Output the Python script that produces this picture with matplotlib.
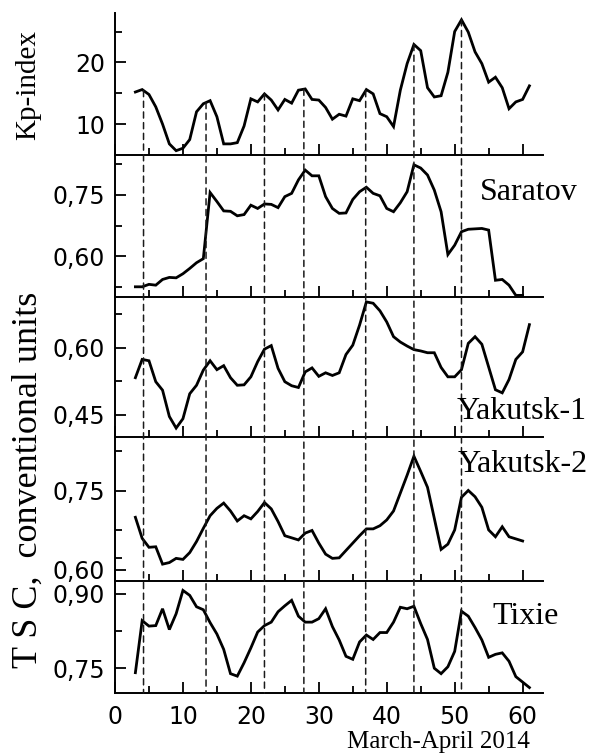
import numpy as np
import matplotlib
matplotlib.use("Agg")
import matplotlib.pyplot as plt
from matplotlib.patches import ConnectionPatch
from matplotlib.font_manager import FontProperties
from matplotlib.ticker import FuncFormatter, MultipleLocator, FixedLocator

# days of March-April 2014
days = list(range(3, 62))

kp = [15.2, 15.6, 14.8, 12.8, 10.0, 6.8, 5.7, 6.1, 7.5, 12.0, 13.3, 13.8, 11.2, 6.8, 6.8,
      7.0, 9.7, 14.1, 13.6, 14.9, 13.9, 12.3, 14.0, 13.4, 15.5, 15.7, 14.0, 13.9, 12.7, 10.8,
      11.6, 11.3, 14.1, 13.8, 15.6, 14.9, 11.7, 11.2, 9.6, 15.5, 19.8, 22.9, 21.9, 15.9, 14.4,
      14.6, 18.4, 25.0, 26.9, 24.9, 21.7, 19.8, 16.8, 17.6, 15.9, 12.5, 13.6, 14.0, 16.2]

saratov = [0.525, 0.525, 0.531, 0.529, 0.543, 0.548, 0.547, 0.557, 0.570, 0.584, 0.594, 0.756,
           0.734, 0.711, 0.710, 0.699, 0.702, 0.725, 0.717, 0.728, 0.727, 0.719,
           0.746, 0.754, 0.787, 0.811, 0.797, 0.797, 0.746, 0.717, 0.705, 0.706,
           0.739, 0.758, 0.769, 0.754, 0.748, 0.717, 0.709, 0.731, 0.758, 0.824,
           0.816, 0.799, 0.762, 0.709, 0.604, 0.627, 0.660, 0.666, 0.667, 0.668,
           0.664, 0.541, 0.543, 0.529, 0.504, 0.504]

yakutsk1 = [0.533, 0.574, 0.571, 0.524, 0.505, 0.446, 0.420, 0.441, 0.497, 0.516, 0.550, 0.571,
            0.551, 0.560, 0.533, 0.516, 0.517, 0.535, 0.569, 0.597, 0.605, 0.554, 0.524, 0.515,
            0.511, 0.546, 0.555, 0.536, 0.544, 0.538, 0.544, 0.585, 0.606, 0.651, 0.703, 0.700,
            0.683, 0.658, 0.625, 0.613, 0.604, 0.596, 0.593, 0.589, 0.589, 0.556, 0.535, 0.535,
            0.551, 0.610, 0.625, 0.608, 0.557, 0.506, 0.499, 0.529, 0.574, 0.591, 0.652]

yakutsk2 = [0.700, 0.660, 0.643, 0.644, 0.611, 0.614, 0.622, 0.620, 0.633, 0.654, 0.679, 0.703,
            0.717, 0.727, 0.712, 0.693, 0.703, 0.697, 0.711, 0.728, 0.716, 0.692, 0.665, 0.661,
            0.657, 0.670, 0.675, 0.651, 0.630, 0.622, 0.623, 0.637, 0.651, 0.665, 0.678, 0.678,
            0.684, 0.695, 0.712, 0.746, 0.780, 0.816, 0.787, 0.757, 0.698, 0.639, 0.649, 0.676,
            0.738, 0.751, 0.739, 0.719, 0.676, 0.663, 0.682, 0.663, 0.659, 0.655]

tixie = [0.741, 0.846, 0.835, 0.836, 0.870, 0.828, 0.860, 0.907, 0.897, 0.874, 0.868, 0.842,
         0.819, 0.788, 0.739, 0.734, 0.761, 0.791, 0.823, 0.836, 0.843, 0.864, 0.876, 0.887,
         0.855, 0.843, 0.843, 0.850, 0.870, 0.834, 0.807, 0.774, 0.768, 0.803, 0.817, 0.808,
         0.822, 0.822, 0.843, 0.873, 0.870, 0.875, 0.840, 0.808, 0.750, 0.739, 0.753, 0.784,
         0.865, 0.855, 0.832, 0.807, 0.772, 0.778, 0.781, 0.764, 0.733, 0.722, 0.711]

# days marked by dashed lines
event_days = [4.2, 13.4, 22.0, 27.8, 36.9, 44.0, 51.0]

station_names = ["Saratov", "Yakutsk-1", "Yakutsk-2", "Tixie"]

W, H = 594, 753
fig = plt.figure(figsize=(W / 100, H / 100), dpi=100)

left, right = 115, 543
# (top, bottom) of each panel in pixels
panel_px = [(13, 155), (155, 297), (297, 437), (437, 581), (581, 693)]
axes = []
for top, bot in panel_px:
    ax = fig.add_axes([left / W, 1 - bot / H, (right - left) / W, (bot - top) / H])
    axes.append(ax)

tick_font = FontProperties(family=["DejaVu Sans"], size=17)
serif = ["Liberation Serif", "DejaVu Serif"]
comma_fmt = FuncFormatter(lambda v, p: f"{v:.2f}".replace(".", ","))

series = [days, days[:len(saratov)], days, days[:len(yakutsk2)], days]
values = [kp, saratov, yakutsk1, yakutsk2, tixie]
ylims = [(5, 28), (0.50, 0.848), (0.40, 0.714), (0.579, 0.8525), (0.70, 0.926)]
majors = [[10, 20], [0.60, 0.75], [0.45, 0.60], [0.60, 0.75], [0.75, 0.90]]
minors = [[15, 25], [0.525, 0.675, 0.825], [0.525, 0.675], [0.6225, 0.675, 0.825], [0.825]]

for i, ax in enumerate(axes):
    ax.plot(series[i], values[i], color="black", lw=2.0, solid_joinstyle="miter")
    ax.set_xlim(0, 63)
    ax.set_ylim(*ylims[i])
    ax.spines["top"].set_visible(False)
    ax.spines["right"].set_visible(False)
    for s in ("left", "bottom"):
        ax.spines[s].set_linewidth(1.4)
    ax.patch.set_visible(False)
    ax.xaxis.set_major_locator(MultipleLocator(10))
    ax.xaxis.set_minor_locator(MultipleLocator(5))
    ax.yaxis.set_major_locator(FixedLocator(majors[i]))
    ax.yaxis.set_minor_locator(FixedLocator(minors[i]))
    ax.tick_params(which="major", direction="in", length=8, width=1.3)
    ax.tick_params(which="minor", direction="in", length=5, width=1.3)
    ax.tick_params(axis="y", which="major", pad=7)
    ax.tick_params(axis="x", which="major", pad=9)
    if i == 0:
        ax.yaxis.set_major_formatter(FuncFormatter(lambda v, p: f"{v:.0f}"))
    else:
        ax.yaxis.set_major_formatter(comma_fmt)
    for lab in ax.get_yticklabels():
        lab.set_fontproperties(tick_font)
    if i < 4:
        ax.tick_params(axis="x", labelbottom=False)
    else:
        for lab in ax.get_xticklabels():
            lab.set_fontproperties(tick_font)

# station labels
label_pos = [(480, 193), (457, 412), (458, 465), (492, 617)]
for name, (px, py) in zip(station_names, label_pos):
    fig.text(px / W, 1 - py / H, name, family=serif, size=23, ha="left", va="center")

fig.text(28 / W, 1 - 85 / H, "Kp-index", family=serif, size=21, rotation=90,
         ha="center", va="center")
fig.text(28 / W, 1 - 480 / H, "T S C,  conventional units", family=serif, size=26,
         rotation=90, ha="center", va="center")
fig.text(438 / W, 1 - 742 / H, "March-April 2014", family=serif, size=18,
         ha="center", va="center")

# dashed lines from the Kp curve down to the bottom panel
for d in event_days:
    kp_at = np.interp(d, days, kp)
    con = ConnectionPatch(xyA=(d, kp_at), coordsA="data", axesA=axes[0],
                          xyB=(d, ylims[-1][0]), coordsB="data", axesB=axes[-1],
                          color="#1a1a1a", lw=1.1, linestyle=(0, (4, 3)))
    fig.add_artist(con)

fig.savefig("out.png", dpi=100)
